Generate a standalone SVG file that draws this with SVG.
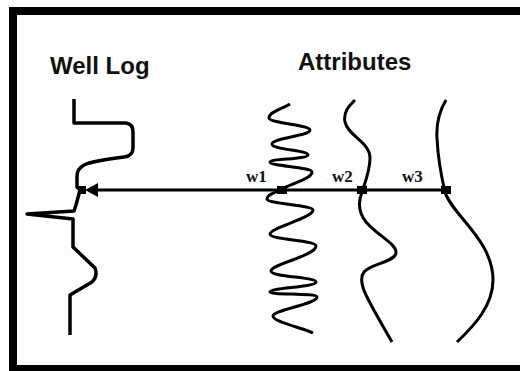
<svg xmlns="http://www.w3.org/2000/svg" width="520" height="371" viewBox="0 0 520 371">
  <style>
    .title { font-family: "Liberation Sans", Arial, sans-serif; font-weight: bold; font-size: 24px; fill: #111; }
    .wlab { font-family: "Liberation Serif", "Times New Roman", serif; font-weight: bold; font-size: 17px; fill: #111; }
    .curve { fill: none; stroke: #000; stroke-width: 3; stroke-linecap: butt; stroke-linejoin: round; }
    .log { fill: none; stroke: #000; stroke-width: 3.5; stroke-linejoin: round; }
    .mark { fill: #000; }
  </style>

  <!-- background and frame -->
  <rect x="0" y="0" width="520" height="371" fill="#fdfdfd"/>
  <rect x="13" y="11" width="600" height="358" fill="none" stroke="#000" stroke-width="8"/>

  <!-- titles -->
  <g id="title-well-log"><text class="title" x="50" y="74">Well Log</text></g>
  <g id="title-attributes"><text class="title" x="298" y="70">Attributes</text></g>

  <!-- well log trace -->
  <g id="well-log">
    <path class="log" d="M74,99 V123 H126 Q133,124 133,132 V148 Q133,156 124,157 Q92,161 84,165 Q77,169 77,176 V187 L80,190 L76,205 L74,211 L27,214 L73,219 V247 L95,268 Q98,276 92,282 L70,295 V335"/>
  </g>

  <!-- attribute w1: tight oscillation -->
  <g id="attr-w1">
    <path class="curve" d="M290,104 C280,110 269,112 269,118 C269,123 310,125 310,130 C310,136 272,138 272,144 C272,150 308,150 308,155 C308,159 270,159 270,162 C270,166 312,167 312,172 C312,179 290,184 280,190 C272,194 267,195 267,199 C267,204 313,205 313,210 C313,218 270,228 270,234 C270,240 316,240 316,246 C316,256 271,264 271,271 C271,277 316,277 316,282 C316,287 270,288 270,292 C270,295 317,293 317,297 C317,304 273,310 273,316 C273,322 303,328 313,333"/>
  </g>

  <!-- attribute w2: moderate wave -->
  <g id="attr-w2">
    <path class="curve" d="M355,100 C349,106 343,112 345,122 C348,136 370,142 370,158 C370,170 366,180 362,192 C358,202 358,212 366,222 C378,236 397,244 396,253 C395,262 370,264 364,272 C356,282 368,300 392,342"/>
  </g>

  <!-- attribute w3: long wave -->
  <g id="attr-w3">
    <path class="curve" d="M446,100 C440,110 436,122 437,138 C438,160 441,175 445,192 C452,215 493,240 493,280 C493,305 475,325 457,342"/>
  </g>

  <!-- correlation line with weights -->
  <g id="connectors">
    <line x1="95" y1="190" x2="447" y2="190" stroke="#000" stroke-width="3"/>
    <polygon class="mark" points="85,190 98,183 98,197"/>
    <rect class="mark" x="78" y="186" width="8" height="8"/>
    <rect class="mark" x="277" y="186" width="10" height="8"/>
    <rect class="mark" x="357" y="186" width="10" height="8"/>
    <rect class="mark" x="441" y="186" width="10" height="8"/>
  </g>

  <!-- weight labels -->
  <g id="labels">
    <text class="wlab" x="246" y="182">w1</text>
    <text class="wlab" x="332" y="182">w2</text>
    <text class="wlab" x="402" y="182">w3</text>
  </g>
</svg>
